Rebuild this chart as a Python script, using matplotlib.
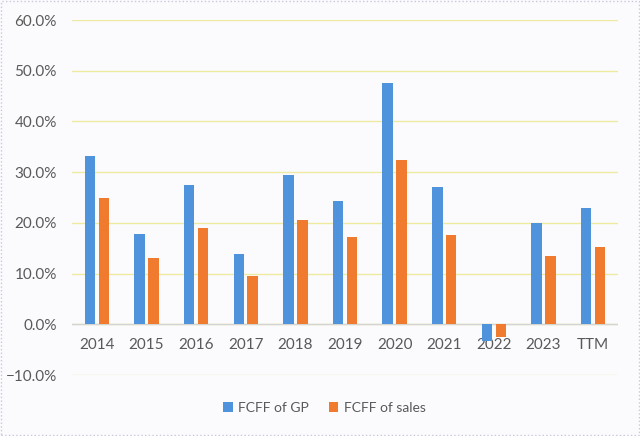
import numpy as np
import matplotlib.pyplot as plt
from matplotlib.patches import Rectangle
from matplotlib.ticker import PercentFormatter

# Data (percent)
categories = ['2014', '2015', '2016', '2017', '2018', '2019', '2020', '2021', '2022', '2023', 'TTM']
fcff_gp = [33.2, 17.9, 27.4, 13.9, 29.4, 24.4, 47.6, 27.0, -3.2, 20.0, 22.9]
fcff_sales = [25.0, 13.1, 19.0, 9.6, 20.5, 17.3, 32.3, 17.7, -2.5, 13.4, 15.2]
series_names = ['FCFF of GP', 'FCFF of sales']

BLUE = '#4f93dc'
ORANGE = '#f07a2e'
BG = '#fbfbfe'
TEXT = '#595959'

plt.rcParams['font.family'] = ['Lato', 'DejaVu Sans']

fig = plt.figure(figsize=(6.4, 4.36), dpi=100, facecolor=BG)
ax = fig.add_axes([0.1125, 0.1399, 0.8531, 0.8142])
ax.set_facecolor(BG)

x = np.arange(len(categories))
width = 0.21
offset = 0.14
ax.bar(x - offset, fcff_gp, width, color=BLUE, label=series_names[0], zorder=3)
ax.bar(x + offset, fcff_sales, width, color=ORANGE, label=series_names[1], zorder=3)

ax.set_xlim(-0.5, len(categories) - 0.5)
ax.set_ylim(-10, 60)
ax.set_yticks(np.arange(-10, 61, 10))
ax.yaxis.set_major_formatter(PercentFormatter(decimals=1))
ax.grid(axis='y', color='#f0eaa0', linewidth=1, zorder=0)
ax.axhline(0, color='#d4d4d4', linewidth=1, zorder=2)

ax.set_xticks(x)
ax.set_xticklabels(categories)
ax.spines['bottom'].set_position(('data', 0))
for s in ax.spines.values():
    s.set_visible(False)
ax.tick_params(axis='both', length=0, labelsize=11, labelcolor=TEXT)
ax.tick_params(axis='x', pad=10)
ax.tick_params(axis='y', pad=11)

leg = fig.legend(loc='center', bbox_to_anchor=(0.507, 0.064), ncol=2, frameon=False,
                 fontsize=10, handlelength=0.7, handleheight=0.7, handletextpad=0.4,
                 columnspacing=1.4)
for t in leg.get_texts():
    t.set_color(TEXT)

fig.patches.append(Rectangle((0.002, 0.002), 0.996, 0.996, transform=fig.transFigure,
                             fill=False, edgecolor='#c8c8dc', linestyle=':', linewidth=1))

fig.savefig('out.png', dpi=100, facecolor=BG)
